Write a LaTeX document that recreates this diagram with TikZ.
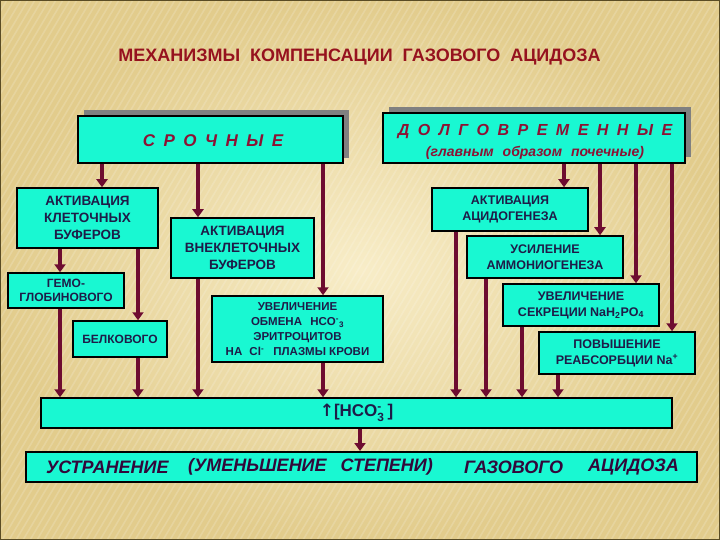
\documentclass[tikz,border=0pt]{standalone}
\usepackage{amsmath}
\usepackage{fontspec}
\setmainfont{Liberation Sans}
\newfontfamily\arrowfont{DejaVu Sans}
\usetikzlibrary{arrows.meta}
\definecolor{cyanc}{RGB}{25,248,210}
\definecolor{arrc}{RGB}{110,12,48}
\definecolor{boxtext}{RGB}{30,28,72}
\definecolor{titlec}{RGB}{150,18,30}
\definecolor{headc}{RGB}{140,18,52}
\definecolor{bottomc}{RGB}{50,8,58}
\definecolor{bgin}{RGB}{248,237,200}
\definecolor{bgout}{RGB}{226,204,140}
\definecolor{framec}{RGB}{90,76,36}
\definecolor{shadowc}{RGB}{128,128,128}
\newcommand{\hcoion}{HCO$^{\text{-}}_{\text{3}}$}
\begin{document}
\begin{tikzpicture}[x=1pt,y=-1pt,
  box/.style={draw=black, line width=1.5pt, fill=cyanc, inner sep=0pt, align=center,
    text=boxtext, font=\bfseries\fontsize{12.5}{16}\selectfont},
  bigbox/.style={draw=black, line width=2pt, fill=cyanc, inner sep=0pt},
  arr/.style={draw=arrc, line width=4pt, -{Triangle[width=11pt,length=8pt]}}]
\useasboundingbox (0,0) rectangle (720,540);
% background
\shade[inner color=bgin, outer color=bgout] (0,0) rectangle (720,540);
\begin{scope}
\clip (0,0) rectangle (720,540);
\foreach \i in {-320,-313,...,720}
  \draw[white, opacity=0.16, line width=1.6pt] (\i,540) -- (\i+320,0);
\end{scope}
\draw[framec, line width=2pt] (0,0) rectangle (720,540);

% title
\node[text=titlec, font=\bfseries\fontsize{18}{20}\selectfont] (title) at (359.5,57)
  {{\spaceskip=10pt МЕХАНИЗМЫ КОМПЕНСАЦИИ ГАЗОВОГО АЦИДОЗА}};

% header boxes with shadows
\fill[shadowc] (84,110) rectangle (349,158);
\node[bigbox, minimum width=265pt, minimum height=47pt] (sr) at (210.5,139.5) {};
\node[text=headc, font=\bfseries\itshape\fontsize{17}{20}\selectfont] (srt) at (213,141)
  {{\spaceskip=8.5pt С Р О Ч Н Ы Е}};

\fill[shadowc] (389,107) rectangle (691,157);
\node[bigbox, minimum width=302pt, minimum height=50pt] (dl) at (534,138) {};
\node[text=headc, font=\bfseries\itshape\fontsize{16}{19}\selectfont] (dlt) at (535,132)
  {{\spaceskip=8.5pt Д О Л Г О В Р Е М Е Н Н Ы Е}};
\node[text=headc, font=\bfseries\itshape\fontsize{14}{17}\selectfont] (dlt2) at (535,153)
  {(главным\hspace{5pt} образом\hspace{5pt} почечные)};

% left boxes
\node[box, font=\bfseries\fontsize{13.5}{17}\selectfont, minimum width=141pt, minimum height=60pt] (kl) at (87.5,218)
  {АКТИВАЦИЯ\\КЛЕТОЧНЫХ\\БУФЕРОВ};
\node[box, font=\bfseries\fontsize{13.5}{17}\selectfont, minimum width=143pt, minimum height=60pt] (vn) at (242.5,248)
  {АКТИВАЦИЯ\\ВНЕКЛЕТОЧНЫХ\\БУФЕРОВ};
\node[box, font=\bfseries\fontsize{12}{13.5}\selectfont, minimum width=116pt, minimum height=35pt] (gem) at (66,290.5)
  {ГЕМО-\\ГЛОБИНОВОГО};
\node[box, font=\bfseries\fontsize{12}{14}\selectfont, minimum width=94pt, minimum height=36pt] (bel) at (120,339)
  {БЕЛКОВОГО};
\node[box, font=\bfseries\fontsize{11.5}{15}\selectfont, minimum width=171pt, minimum height=66pt] (obm) at (297.5,329)
  {УВЕЛИЧЕНИЕ\\ОБМЕНА\hspace{5pt} HCO\textsuperscript{-}\textsubscript{3}\\ЭРИТРОЦИТОВ\\НА\hspace{4pt} Cl\textsuperscript{-}\hspace{6pt} ПЛАЗМЫ КРОВИ};

% right boxes
\node[box, minimum width=156pt, minimum height=43pt] (ac) at (510,209.5)
  {АКТИВАЦИЯ\\АЦИДОГЕНЕЗА};
\node[box, minimum width=156pt, minimum height=42pt] (am) at (545,257)
  {УСИЛЕНИЕ\\АММОНИОГЕНЕЗА};
\node[box, minimum width=156pt, minimum height=42pt] (sek) at (581,305)
  {УВЕЛИЧЕНИЕ\\СЕКРЕЦИИ NaH\textsubscript{2}PO\textsubscript{4}};
\node[box, minimum width=156pt, minimum height=42pt] (rea) at (617,353)
  {ПОВЫШЕНИЕ\\РЕАБСОРБЦИИ Na\textsuperscript{+}};

% HCO3 bar
\node[box, font=\bfseries\fontsize{17}{20}\selectfont, minimum width=631pt, minimum height=30pt] (hco) at (356.5,413)
  {{\arrowfont\bfseries ↑}[\hcoion\hspace{3pt}]};

% bottom bar
\node[bigbox, minimum width=671pt, minimum height=30pt] (res) at (361.5,467) {};
\begin{scope}[every node/.style={text=bottomc, font=\bfseries\itshape\fontsize{18}{20}\selectfont, anchor=west, inner sep=0pt}]
\node (w1) at (46,467) {УСТРАНЕНИЕ};
\node (w2) at (188,467) {(УМЕНЬШЕНИЕ\hspace{9pt} СТЕПЕНИ)};
\node (w3) at (464,467) {ГАЗОВОГО};
\node (w4) at (588,467) {АЦИДОЗА};
\end{scope}

% arrows: СРОЧНЫЕ
\draw[arr] (sr.south -| 102,0) -- (kl.north -| 102,0);
\draw[arr] (sr.south -| 198,0) -- (vn.north -| 198,0);
\draw[arr] (sr.south -| 323,0) -- (obm.north -| 323,0);
\draw[arr] (kl.south -| 60,0) -- (gem.north -| 60,0);
\draw[arr] (kl.south -| 138,0) -- (bel.north -| 138,0);
\draw[arr] (gem.south -| 60,0) -- (hco.north -| 60,0);
\draw[arr] (bel.south -| 138,0) -- (hco.north -| 138,0);
\draw[arr] (vn.south -| 198,0) -- (hco.north -| 198,0);
\draw[arr] (obm.south -| 323,0) -- (hco.north -| 323,0);
% arrows: ДОЛГОВРЕМЕННЫЕ
\draw[arr] (dl.south -| 564,0) -- (ac.north -| 564,0);
\draw[arr] (dl.south -| 600,0) -- (am.north -| 600,0);
\draw[arr] (dl.south -| 636,0) -- (sek.north -| 636,0);
\draw[arr] (dl.south -| 672,0) -- (rea.north -| 672,0);
\draw[arr] (ac.south -| 456,0) -- (hco.north -| 456,0);
\draw[arr] (am.south -| 486,0) -- (hco.north -| 486,0);
\draw[arr] (sek.south -| 522,0) -- (hco.north -| 522,0);
\draw[arr] (rea.south -| 558,0) -- (hco.north -| 558,0);
% result
\draw[arr] (hco.south -| 360,0) -- (res.north -| 360,0);
\end{tikzpicture}
\end{document}
